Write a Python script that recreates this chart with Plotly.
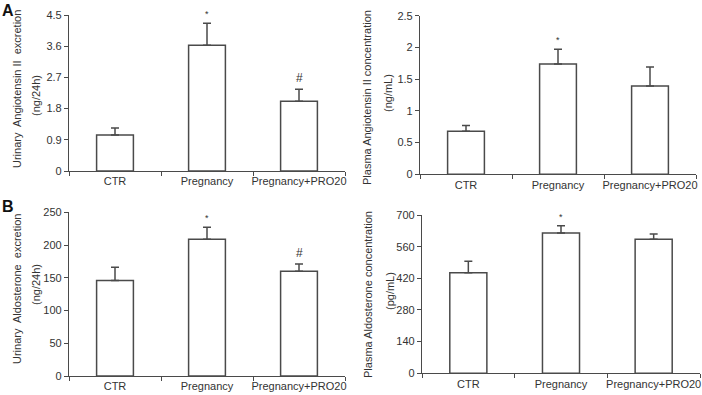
import plotly.graph_objects as go

categories = ["CTR", "Pregnancy", "Pregnancy+PRO20"]

ang_urine = [1.04, 3.63, 2.01]
ang_urine_err = [0.20, 0.63, 0.35]
ang_urine_marks = ["", "*", "#"]
ang_urine_ticks = [0, 0.9, 1.8, 2.7, 3.6, 4.5]
ang_urine_ticktext = ["0", "0.9", "1.8", "2.7", "3.6", "4.5"]

ang_plasma = [0.68, 1.74, 1.39]
ang_plasma_err = [0.09, 0.23, 0.30]
ang_plasma_marks = ["", "*", ""]
ang_plasma_ticks = [0, 0.5, 1, 1.5, 2, 2.5]
ang_plasma_ticktext = ["0", "0.5", "1", "1.5", "2", "2.5"]

ald_urine = [146, 209, 160]
ald_urine_err = [20, 18, 11]
ald_urine_marks = ["", "*", "#"]
ald_urine_ticks = [0, 50, 100, 150, 200, 250]
ald_urine_ticktext = ["0", "50", "100", "150", "200", "250"]

ald_plasma = [445, 620, 593]
ald_plasma_err = [50, 33, 23]
ald_plasma_marks = ["", "*", ""]
ald_plasma_ticks = [0, 140, 280, 420, 560, 700]
ald_plasma_ticktext = ["0", "140", "280", "420", "560", "700"]

W, H = 702, 395
LINE = "#4a4a4a"
TXT = "#333333"
FONT = "Liberation Sans, Arial, sans-serif"

panels = [
    dict(vals=ang_urine, err=ang_urine_err, marks=ang_urine_marks, ticks=ang_urine_ticks,
         ticktext=ang_urine_ticktext,
         t1="Urinary  Angiotensin II  excretion", t2="(ng/24h)",
         px=(69, 345), py=(15, 171), t1pos=(17, 89), t2pos=(36, 96)),
    dict(vals=ang_plasma, err=ang_plasma_err, marks=ang_plasma_marks, ticks=ang_plasma_ticks,
         ticktext=ang_plasma_ticktext,
         t1="Plasma Angiotensin II concentration", t2="(ng/mL)",
         px=(420, 696), py=(15.7, 174.3), t1pos=(367, 97), t2pos=(388, 93)),
    dict(vals=ald_urine, err=ald_urine_err, marks=ald_urine_marks, ticks=ald_urine_ticks,
         ticktext=ald_urine_ticktext,
         t1="Urinary  Aldosterone  excretion", t2="(ng/24h)",
         px=(69, 345), py=(212.3, 376), t1pos=(17, 289), t2pos=(36, 285)),
    dict(vals=ald_plasma, err=ald_plasma_err, marks=ald_plasma_marks, ticks=ald_plasma_ticks,
         ticktext=ald_plasma_ticktext,
         t1="Plasma Aldosterone concentration", t2="(pg/mL)",
         px=(422, 700), py=(215, 373.3), t1pos=(368, 295), t2pos=(390, 291)),
]

fig = go.Figure()
annotations = []
layout_axes = {}
for i, p in enumerate(panels, start=1):
    xa = "x" if i == 1 else f"x{i}"
    ya = "y" if i == 1 else f"y{i}"
    fig.add_trace(go.Bar(
        x=categories, y=p["vals"], xaxis=xa, yaxis=ya, width=0.4,
        marker=dict(color="white", line=dict(color=LINE, width=1.5)),
        error_y=dict(type="data", array=p["err"], arrayminus=[0] * len(p["err"]),
                     symmetric=False, color=LINE, thickness=1.5, width=4),
        showlegend=False, hoverinfo="skip", cliponaxis=False,
    ))
    xd = [p["px"][0] / W, p["px"][1] / W]
    yd = [1 - p["py"][1] / H, 1 - p["py"][0] / H]
    xkey = "xaxis" if i == 1 else f"xaxis{i}"
    ykey = "yaxis" if i == 1 else f"yaxis{i}"
    layout_axes[xkey] = dict(
        domain=xd, anchor=ya, type="category", range=[-0.5, 2.5],
        showline=True, linecolor=LINE, linewidth=1.2, ticks="outside", tickson="boundaries",
        ticklen=4, tickcolor=LINE, showgrid=False, zeroline=False, tickangle=0,
        automargin=False,
        tickfont=dict(family=FONT, size=11, color=TXT), fixedrange=True,
    )
    layout_axes[ykey] = dict(
        domain=yd, anchor=xa, range=[p["ticks"][0], p["ticks"][-1]],
        tickvals=p["ticks"], ticktext=p["ticktext"], automargin=False,
        showline=True, linecolor=LINE, linewidth=1.2, ticks="outside", ticklen=4,
        tickcolor=LINE, showgrid=False, zeroline=False,
        tickfont=dict(family=FONT, size=11, color=TXT), fixedrange=True,
    )
    # y title, two lines placed separately
    for txt, pos in ((p["t1"], p["t1pos"]), (p["t2"], p["t2pos"])):
        annotations.append(dict(
            text=txt.replace("  ", "\u00a0 "), xref="paper", yref="paper",
            x=pos[0] / W, y=1 - pos[1] / H,
            xanchor="center", yanchor="middle", textangle=-90, showarrow=False,
            font=dict(family=FONT, size=11, color=TXT),
        ))
    # significance marks
    for c, v, e, m in zip(categories, p["vals"], p["err"], p["marks"]):
        if m:
            annotations.append(dict(
                text=m, xref=xa, yref=ya, x=c, y=v + e, xanchor="center",
                yanchor="bottom", yshift=2, showarrow=False,
                font=dict(family=FONT, size=9 if m == "*" else 12, color=TXT),
            ))

annotations.append(dict(text="<b>A</b>", xref="paper", yref="paper", x=0, y=1,
                        xanchor="left", yanchor="top", showarrow=False,
                        font=dict(family=FONT, size=16, color="#111")))
annotations.append(dict(text="<b>B</b>", xref="paper", yref="paper", x=0, y=1 - 196 / H,
                        xanchor="left", yanchor="top", showarrow=False,
                        font=dict(family=FONT, size=16, color="#111")))

fig.update_layout(
    width=W, height=H, margin=dict(l=0, r=0, t=0, b=0),
    paper_bgcolor="white", plot_bgcolor="white",
    annotations=annotations, bargap=0.6, **layout_axes,
)

fig.write_html(
    "out.html",
    config={"displayModeBar": False},
    post_script="document.body.style.margin='0';document.body.style.padding='0';"
                "document.body.style.overflow='hidden';",
)
